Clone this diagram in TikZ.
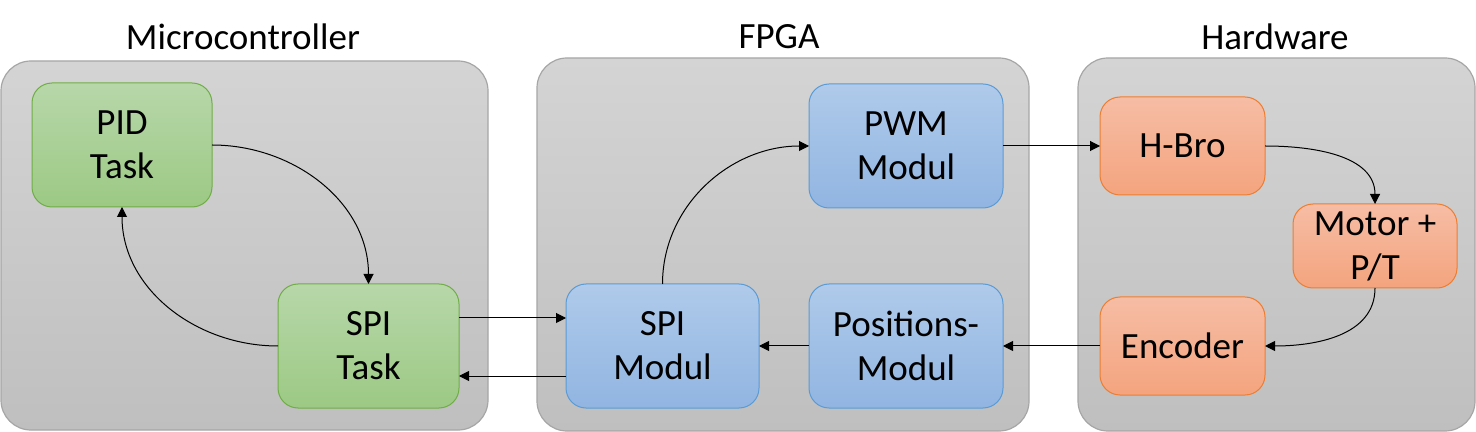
\documentclass[tikz,border=0pt]{standalone}
\usepackage{fontspec}
\setmainfont{Carlito}
\usetikzlibrary{arrows.meta}
\definecolor{contTop}{HTML}{D4D4D4}
\definecolor{contBot}{HTML}{BFBFBF}
\definecolor{contBorder}{HTML}{A6A6A6}
\definecolor{gTop}{HTML}{B7D7A9}
\definecolor{gBot}{HTML}{9CC984}
\definecolor{gBorder}{HTML}{70AD47}
\definecolor{bTop}{HTML}{AFCAEA}
\definecolor{bBot}{HTML}{91B5E1}
\definecolor{bBorder}{HTML}{5B9BD5}
\definecolor{oTop}{HTML}{F6BDA5}
\definecolor{oBot}{HTML}{F4A47E}
\definecolor{oBorder}{HTML}{ED7D31}
\tikzset{
  container/.style={draw=contBorder, line width=0.6pt, top color=contTop, bottom color=contBot, rounded corners=15pt, inner sep=0pt, outer sep=0pt},
  blk/.style={line width=0.5pt, rounded corners=10pt, inner sep=0pt, outer sep=0pt, align=center, font=\fontsize{18.5}{22}\selectfont},
  gbox/.style={blk, draw=gBorder, top color=gTop, bottom color=gBot},
  bbox/.style={blk, draw=bBorder, top color=bTop, bottom color=bBot},
  obox/.style={blk, draw=oBorder, top color=oTop, bottom color=oBot},
  ttl/.style={font=\fontsize{18.5}{22}\selectfont, inner sep=0pt},
  arr/.style={-{Triangle[length=5pt,width=5pt]}, line width=0.5pt, black}
}
\begin{document}
\begin{tikzpicture}[x=0.5pt, y=-0.5pt]
\useasboundingbox (0,0) rectangle (1476,432);
% containers
\node[container, minimum width=243.5pt, minimum height=184.5pt] (mc) at (244.5,245.5) {};
\node[container, minimum width=246pt, minimum height=186.5pt] (fp) at (783,244.5) {};
\node[container, minimum width=198.5pt, minimum height=186.5pt] (hw) at (1276.5,244.5) {};
% titles
\node[ttl] (tmc) at (243,37) {Microcontroller};
\node[ttl] (tfp) at (779,37) {FPGA};
\node[ttl] (thw) at (1275,37) {Hardware};
% microcontroller blocks
\node[gbox, minimum width=90pt, minimum height=62pt] (pid) at (122,145) {PID\\Task};
\node[gbox, minimum width=90.5pt, minimum height=62pt] (spit) at (368.5,346) {SPI\\Task};
% FPGA blocks
\node[bbox, minimum width=96.5pt, minimum height=62pt] (spim) at (662.5,346) {SPI\\Modul};
\node[bbox, minimum width=97pt, minimum height=62pt] (pwm) at (906,146) {PWM\\Modul};
\node[bbox, minimum width=97pt, minimum height=62pt] (pos) at (906,346) {Positions-\\Modul};
% hardware blocks
\node[obox, minimum width=82.5pt, minimum height=49pt] (hb) at (1182.5,146) {H-Bro};
\node[obox, minimum width=82pt, minimum height=42pt] (mot) at (1375,246) {Motor +\\P/T};
\node[obox, minimum width=82.5pt, minimum height=49pt] (enc) at (1182.5,346) {Encoder};
% connectors
\draw[arr] (pid.east) to[out=0, in=90] (spit.north);
\draw[arr] (spit.west) to[out=180, in=-90] (pid.south);
\draw[arr] (spit.east |- 0,318) -- (spim.west |- 0,318);
\draw[arr] (spim.west |- 0,376) -- (spit.east |- 0,376);
\draw[arr] (spim.north) to[out=90, in=180] (pwm.west);
\draw[arr] (pwm.east) -- (hb.west);
\draw[arr] (hb.east) to[out=0, in=90] (mot.north);
\draw[arr] (mot.south) to[out=-90, in=0] (enc.east);
\draw[arr] (enc.west) -- (pos.east);
\draw[arr] (pos.west) -- (spim.east);
\end{tikzpicture}
\end{document}
